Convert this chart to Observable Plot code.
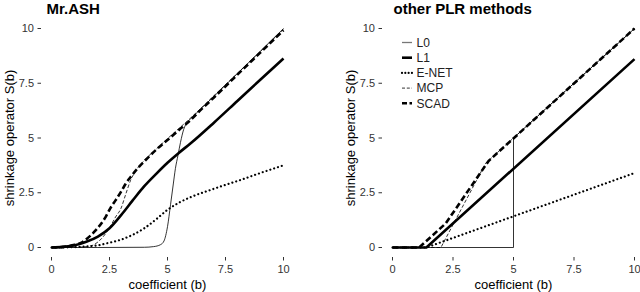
<!DOCTYPE html>
<html><head><meta charset="utf-8">
<script src="https://cdn.jsdelivr.net/npm/d3@7"></script>
<script src="https://cdn.jsdelivr.net/npm/@observablehq/plot@0.6"></script>
<style>
html,body{margin:0;padding:0;background:#fff;}
#wrap{display:flex;width:640px;height:292px;overflow:hidden;font-family:"Liberation Sans",Arial,sans-serif;}
#wrap svg{display:block;}
</style></head><body><div id="wrap"></div>
<script>
// ---------- data ----------
const methods = ["L0", "L1", "E-NET", "MCP", "SCAD"];
const panelTitles = ["Mr.ASH", "other PLR methods"];
const xTicks = [0, 2.5, 5, 7.5, 10];
const yTicks = [0, 2.5, 5, 7.5, 10];
const xTitle = "coefficient (b)";
const yTitle = "shrinkage operator S(b)";

// Mr.ASH panel
const ashL0_b   = [0, 2, 4, 4.4, 4.7, 4.85, 5.0, 5.13, 5.25, 5.34, 5.45, 5.56, 5.7, 5.85, 6, 7, 8, 9, 10];
const ashL0_s   = [0, 0, 0.01, 0.04, 0.13, 0.3, 0.95, 1.95, 2.9, 3.6, 4.2, 4.8, 5.4, 5.72, 5.88, 6.9, 7.93, 8.96, 10];
const ashL1_b   = [0, 0.5, 1, 1.5, 2, 2.5, 3, 3.5, 4, 4.5, 5, 5.5, 6, 7, 8, 9, 10];
const ashL1_s   = [0, 0.03, 0.1, 0.26, 0.5, 0.88, 1.48, 2.15, 2.8, 3.35, 3.87, 4.33, 4.76, 5.7, 6.68, 7.66, 8.63];
const ashENET_b = [0, 1, 1.5, 2, 2.5, 3, 3.5, 4, 4.5, 5, 5.5, 6, 6.5, 7, 7.5, 8, 9, 10];
const ashENET_s = [0, 0.02, 0.05, 0.1, 0.22, 0.36, 0.58, 0.88, 1.28, 1.72, 2.05, 2.3, 2.5, 2.68, 2.86, 3.03, 3.4, 3.75];
const ashMCP_b  = [0, 1, 1.5, 1.75, 2, 2.33, 2.5, 2.76, 3, 3.19, 3.41, 3.6, 4, 4.5, 5, 6, 7, 8, 9, 10];
const ashMCP_s  = [0, 0.01, 0.04, 0.09, 0.25, 0.63, 0.9, 1.39, 1.8, 2.4, 3.07, 3.45, 3.98, 4.48, 4.97, 5.92, 6.93, 7.94, 8.95, 9.96];
const ashSCAD_b = [0, 0.5, 1, 1.32, 1.5, 1.9, 2.33, 2.54, 2.76, 3, 3.19, 3.41, 3.7, 4, 4.27, 4.6, 5.13, 5.5, 5.85, 6.5, 7, 8, 9, 10];
const ashSCAD_s = [0, 0.03, 0.12, 0.24, 0.38, 0.78, 1.39, 1.8, 2.15, 2.55, 2.9, 3.22, 3.6, 3.93, 4.22, 4.55, 5.03, 5.37, 5.68, 6.35, 6.85, 7.88, 8.9, 9.92];

// other PLR methods panel
const plrL0_b   = [0, 5, 5, 10];
const plrL0_s   = [0, 0, 5, 10];
const plrL1_b   = [0, 1.4, 10];
const plrL1_s   = [0, 0, 8.6];
const plrENET_b = [0, 1.4, 10];
const plrENET_s = [0, 0, 3.4];
const plrMCP_b  = [0, 2.0, 3.85, 10];
const plrMCP_s  = [0, 0, 3.85, 10];
const plrSCAD_b = [0, 1.1, 2.2, 3.97, 10];
const plrSCAD_s = [0, 0, 1.1, 3.95, 10];

// ---------- styling ----------
const lineStyle = {
  "L0":    {w: 0.8, dash: null,       cap: "butt"},
  "L1":    {w: 2.6, dash: null,       cap: "butt"},
  "E-NET": {w: 2.2, dash: "0.01,4",   cap: "round"},
  "MCP":   {w: 0.8, dash: "3.5,2",    cap: "butt"},
  "SCAD":  {w: 2.6, dash: "6,3",      cap: "butt"}
};
const legendDash = {"L0": null, "L1": null, "E-NET": "0.01,3.3", "MCP": "3,1.8", "SCAD": "5,2.5"};

function toRows(bs, ss) { return bs.map((b, i) => ({b, s: ss[i]})); }

const ashSeries = {
  "L0": toRows(ashL0_b, ashL0_s), "L1": toRows(ashL1_b, ashL1_s),
  "E-NET": toRows(ashENET_b, ashENET_s), "MCP": toRows(ashMCP_b, ashMCP_s),
  "SCAD": toRows(ashSCAD_b, ashSCAD_s)
};
const plrSeries = {
  "L0": toRows(plrL0_b, plrL0_s), "L1": toRows(plrL1_b, plrL1_s),
  "E-NET": toRows(plrENET_b, plrENET_s), "MCP": toRows(plrMCP_b, plrMCP_s),
  "SCAD": toRows(plrSCAD_b, plrSCAD_s)
};

function panel(series, title, o) {
  const marks = methods.map(m => Plot.line(series[m], {
    x: "b", y: "s", stroke: "black", strokeWidth: lineStyle[m].w,
    strokeDasharray: lineStyle[m].dash, strokeLinecap: lineStyle[m].cap,
    curve: o.curve, strokeLinejoin: "round"
  }));
  return Plot.plot({
    width: 320, height: 292,
    marginLeft: o.ml, marginRight: o.mr, marginTop: 28, marginBottom: 45,
    style: {fontFamily: '"Liberation Sans", Arial, sans-serif', background: "white", overflow: "visible"},
    x: {domain: [0, 10]},
    y: {domain: [0, 10]},
    marks: [
      Plot.axisX({ticks: xTicks, tickSize: 3.5, tickPadding: 4, dy: 10, fontSize: 11,
        stroke: "#333", fill: "#333", label: null, tickFormat: d => String(d)}),
      Plot.axisY({ticks: yTicks, tickSize: 3.5, tickPadding: 4, dx: -10, fontSize: 11,
        stroke: "#333", fill: "#333", label: null, tickFormat: d => String(d)}),
      ...marks,
      Plot.text([title], {text: d => d, frameAnchor: "top-left", dx: o.tdx, dy: -15,
        lineAnchor: "bottom", textAnchor: "start", fontWeight: "bold", fontSize: 15, fill: "black"}),
      Plot.text([xTitle], {text: d => d, frameAnchor: "bottom", dy: 41,
        lineAnchor: "bottom", textAnchor: "middle", fontSize: 13, fill: "black"}),
      Plot.text([yTitle], {text: d => d, frameAnchor: "left", dx: o.ydx, rotate: -90,
        lineAnchor: "bottom", textAnchor: "middle", fontSize: 13, fill: "black"})
    ]
  });
}

const wrap = document.getElementById("wrap");
const left = panel(ashSeries, panelTitles[0], {ml: 51, mr: 37, curve: "monotone-x", tdx: -5, ydx: -38});
const right = panel(plrSeries, panelTitles[1], {ml: 72, mr: 6, curve: "linear", tdx: 1, ydx: -38});
wrap.appendChild(left);
wrap.appendChild(right);

// legend inside the right panel
const lg = d3.select(right).append("g")
  .attr("transform", "translate(82,42.5)")
  .attr("font-family", '"Liberation Sans", Arial, sans-serif')
  .attr("font-size", 12)
  .attr("text-anchor", "start");
methods.forEach((m, i) => {
  const g = lg.append("g").attr("transform", `translate(0,${i * 15.2})`);
  g.append("line").attr("x1", 0).attr("x2", 10).attr("y1", 0).attr("y2", 0)
    .attr("stroke", m === "L0" ? "#777" : "black")
    .attr("stroke-width", lineStyle[m].w + (m === "L0" ? 0.5 : 0))
    .attr("stroke-linecap", lineStyle[m].cap)
    .attr("stroke-dasharray", legendDash[m]);
  g.append("text").attr("x", 14.5).attr("y", 0).attr("dy", "0.36em")
    .attr("text-anchor", "start")
    .attr("fill", "#222").text(m);
});
</script></body></html>
